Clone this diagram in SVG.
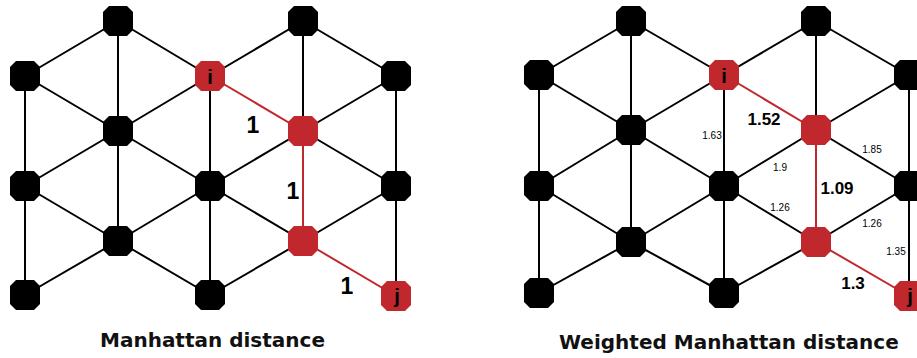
<svg xmlns="http://www.w3.org/2000/svg" xmlns:xlink="http://www.w3.org/1999/xlink" width="917" height="358" viewBox="0 0 917 358">
<defs>
<style>
.e{stroke:#000;stroke-width:2;fill:none}
.r{stroke:#c1282d;stroke-width:2;fill:none}
.nb{fill:#000}
.nr{fill:#c1282d}
.lt{font-family:"Liberation Sans",Arial,sans-serif;font-weight:bold;fill:#000;text-anchor:middle}
.big{font-size:17px}
.one{font-size:23px}
.sm{font-size:10px;font-weight:normal}
.nl{font-family:"Liberation Sans",Arial,sans-serif;font-weight:bold;font-size:20px;fill:#000;text-anchor:middle}
.title{font-family:"DejaVu Sans",sans-serif;font-weight:bold;font-size:20px;fill:#111}
</style>
<polygon id="oct" points="-9,-15 9,-15 15,-9 15,9 9,15 -9,15 -15,9 -15,-9"/>
</defs>
<rect width="917" height="358" fill="#fff"/>

<!-- LEFT GRAPH -->
<g id="left-connectors">
<line class="e" x1="25" y1="76" x2="25" y2="186"/>
<line class="e" x1="25" y1="186" x2="25" y2="295"/>
<line class="e" x1="118" y1="21" x2="118" y2="131"/>
<line class="e" x1="118" y1="131" x2="118" y2="241"/>
<line class="e" x1="210" y1="76" x2="210" y2="186"/>
<line class="e" x1="210" y1="186" x2="210" y2="295"/>
<line class="e" x1="303" y1="21" x2="303" y2="131"/>
<line class="r" x1="303" y1="131" x2="303" y2="241"/>
<line class="e" x1="396" y1="76" x2="396" y2="186"/>
<line class="e" x1="396" y1="186" x2="396" y2="296"/>
<line class="e" x1="118" y1="21" x2="25" y2="76"/>
<line class="e" x1="118" y1="21" x2="210" y2="76"/>
<line class="e" x1="303" y1="21" x2="210" y2="76"/>
<line class="e" x1="303" y1="21" x2="396" y2="76"/>
<line class="e" x1="25" y1="76" x2="118" y2="131"/>
<line class="e" x1="210" y1="76" x2="118" y2="131"/>
<line class="r" x1="210" y1="76" x2="303" y2="131"/>
<line class="e" x1="396" y1="76" x2="303" y2="131"/>
<line class="e" x1="118" y1="131" x2="25" y2="186"/>
<line class="e" x1="118" y1="131" x2="210" y2="186"/>
<line class="e" x1="303" y1="131" x2="210" y2="186"/>
<line class="e" x1="303" y1="131" x2="396" y2="186"/>
<line class="e" x1="25" y1="186" x2="118" y2="241"/>
<line class="e" x1="210" y1="186" x2="118" y2="241"/>
<line class="e" x1="210" y1="186" x2="303" y2="241"/>
<line class="e" x1="396" y1="186" x2="303" y2="241"/>
<line class="e" x1="118" y1="241" x2="25" y2="295"/>
<line class="e" x1="118" y1="241" x2="210" y2="295"/>
<line class="e" x1="303" y1="241" x2="210" y2="295"/>
<line class="r" x1="303" y1="241" x2="396" y2="296"/>
</g>
<g id="left-nodes">
<g id="L-A"><use href="#oct" class="nb" x="118" y="21"/></g>
<g id="L-B"><use href="#oct" class="nb" x="303" y="21"/></g>
<g id="L-C"><use href="#oct" class="nb" x="25" y="76"/></g>
<g id="L-i"><use href="#oct" class="nr" x="210" y="76"/><text class="nl" x="210" y="84">i</text></g>
<g id="L-E"><use href="#oct" class="nb" x="396" y="76"/></g>
<g id="L-F"><use href="#oct" class="nb" x="118" y="131"/></g>
<g id="L-G"><use href="#oct" class="nr" x="303" y="131"/></g>
<g id="L-H"><use href="#oct" class="nb" x="25" y="186"/></g>
<g id="L-I"><use href="#oct" class="nb" x="210" y="186"/></g>
<g id="L-J"><use href="#oct" class="nb" x="396" y="186"/></g>
<g id="L-K"><use href="#oct" class="nb" x="118" y="241"/></g>
<g id="L-L"><use href="#oct" class="nr" x="303" y="241"/></g>
<g id="L-M"><use href="#oct" class="nb" x="25" y="295"/></g>
<g id="L-N"><use href="#oct" class="nb" x="210" y="295"/></g>
<g id="L-j"><use href="#oct" class="nr" x="396" y="296"/><text class="nl" x="397" y="303">j</text></g>
</g>
<g id="left-labels">
<text class="lt one" x="253" y="133">1</text>
<text class="lt one" x="293" y="199">1</text>
<text class="lt one" x="347" y="294">1</text>
</g>

<!-- RIGHT GRAPH -->
<g id="right-connectors">
<line class="e" x1="539" y1="75" x2="539" y2="186"/>
<line class="e" x1="539" y1="186" x2="539" y2="293"/>
<line class="e" x1="631" y1="21" x2="631" y2="130"/>
<line class="e" x1="631" y1="130" x2="631" y2="242"/>
<line class="e" x1="724" y1="75" x2="724" y2="186"/>
<line class="e" x1="724" y1="186" x2="724" y2="293"/>
<line class="e" x1="816" y1="21" x2="816" y2="130"/>
<line class="r" x1="816" y1="130" x2="816" y2="242"/>
<line class="e" x1="909" y1="75" x2="909" y2="186"/>
<line class="e" x1="909" y1="186" x2="909" y2="296"/>
<line class="e" x1="631" y1="21" x2="539" y2="75"/>
<line class="e" x1="631" y1="21" x2="724" y2="75"/>
<line class="e" x1="816" y1="21" x2="724" y2="75"/>
<line class="e" x1="816" y1="21" x2="909" y2="75"/>
<line class="e" x1="539" y1="75" x2="631" y2="130"/>
<line class="e" x1="724" y1="75" x2="631" y2="130"/>
<line class="r" x1="724" y1="75" x2="816" y2="130"/>
<line class="e" x1="909" y1="75" x2="816" y2="130"/>
<line class="e" x1="631" y1="130" x2="539" y2="186"/>
<line class="e" x1="631" y1="130" x2="724" y2="186"/>
<line class="e" x1="816" y1="130" x2="724" y2="186"/>
<line class="e" x1="816" y1="130" x2="909" y2="186"/>
<line class="e" x1="539" y1="186" x2="631" y2="242"/>
<line class="e" x1="724" y1="186" x2="631" y2="242"/>
<line class="e" x1="724" y1="186" x2="816" y2="242"/>
<line class="e" x1="909" y1="186" x2="816" y2="242"/>
<line class="e" x1="631" y1="242" x2="539" y2="293"/>
<line class="e" x1="631" y1="242" x2="724" y2="293"/>
<line class="e" x1="816" y1="242" x2="724" y2="293"/>
<line class="r" x1="816" y1="242" x2="909" y2="296"/>
</g>
<g id="right-nodes">
<g id="R-A"><use href="#oct" class="nb" x="631" y="21"/></g>
<g id="R-B"><use href="#oct" class="nb" x="816" y="21"/></g>
<g id="R-C"><use href="#oct" class="nb" x="539" y="75"/></g>
<g id="R-i"><use href="#oct" class="nr" x="724" y="75"/><text class="nl" x="724" y="83">i</text></g>
<g id="R-E"><use href="#oct" class="nb" x="909" y="75"/></g>
<g id="R-F"><use href="#oct" class="nb" x="631" y="130"/></g>
<g id="R-G"><use href="#oct" class="nr" x="816" y="130"/></g>
<g id="R-H"><use href="#oct" class="nb" x="539" y="186"/></g>
<g id="R-I"><use href="#oct" class="nb" x="724" y="186"/></g>
<g id="R-J"><use href="#oct" class="nb" x="909" y="186"/></g>
<g id="R-K"><use href="#oct" class="nb" x="631" y="242"/></g>
<g id="R-L"><use href="#oct" class="nr" x="816" y="242"/></g>
<g id="R-M"><use href="#oct" class="nb" x="539" y="293"/></g>
<g id="R-N"><use href="#oct" class="nb" x="724" y="293"/></g>
<g id="R-j"><use href="#oct" class="nr" x="909" y="296"/><text class="nl" x="910" y="303">j</text></g>
</g>
<g id="right-labels">
<text class="lt big" x="764" y="125">1.52</text>
<text class="lt big" x="837" y="194">1.09</text>
<text class="lt big" x="853" y="289">1.3</text>
<text class="lt sm" x="712" y="139">1.63</text>
<text class="lt sm" x="780" y="171">1.9</text>
<text class="lt sm" x="872" y="153">1.85</text>
<text class="lt sm" x="780" y="211">1.26</text>
<text class="lt sm" x="872" y="227">1.26</text>
<text class="lt sm" x="896" y="255">1.35</text>
</g>

<g id="titles">
<text class="title" x="100" y="347">Manhattan distance</text>
<text class="title" x="559" y="349">Weighted Manhattan distance</text>
</g>
</svg>
